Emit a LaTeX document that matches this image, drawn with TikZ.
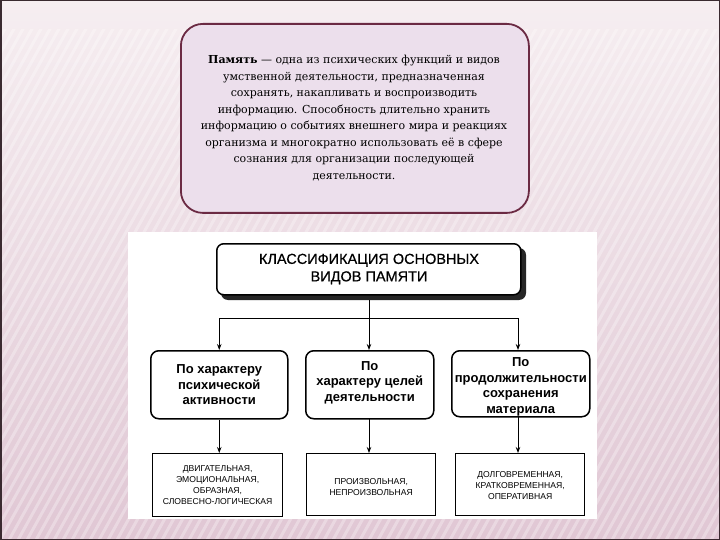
\documentclass[tikz,border=0pt]{standalone}
\usepackage{fontspec}
\setmainfont{Liberation Sans}
\newfontfamily\topfont{DejaVu Serif}
\newfontfamily\diagfont{Liberation Sans}
\newfontfamily\titlefont[FakeBold=0.6]{Liberation Sans}
\usetikzlibrary{arrows.meta}
\definecolor{bgtop}{HTML}{F6EEF1}
\definecolor{bgbot}{HTML}{E0C7D4}
\definecolor{topfill}{HTML}{ECDFEC}
\definecolor{topdraw}{HTML}{6B2A43}
\definecolor{frame}{HTML}{3A2A30}
\tikzset{
  titlebox/.style={draw=black, line width=1.5pt, fill=white, rounded corners=7pt},
  midbox/.style={draw=black, line width=1.5pt, fill=white, rounded corners=8pt},
  lowbox/.style={draw=black, line width=1.3pt, fill=white},
  conn/.style={draw=black, line width=0.9pt},
  arr/.style={conn, -{Stealth[length=6pt,width=4.5pt]}},
  midtext/.style={font=\diagfont\bfseries\fontsize{13}{15.8}\selectfont, align=center, inner sep=0pt},
  lowtext/.style={font=\diagfont\fontsize{8.6}{10.8}\selectfont, align=center, inner sep=0pt},
}
\begin{document}
\begin{tikzpicture}[x=1pt,y=-1pt]
\useasboundingbox (0,0) rectangle (720,540);
% background
\shade[top color=bgtop, bottom color=bgbot] (0,0) rectangle (720,540);
\begin{scope}
\clip (0,30) rectangle (720,540);
\foreach \i in {-40,...,90} {
  \draw[white, opacity=0.3, line width=3pt] (\i*9,540) -- (\i*9+300,0);
}
\end{scope}
\draw[frame, line width=1.5pt] (0.75,0.75) rectangle (719.25,539.25);

% top definition box
\node[draw=topdraw, line width=1.8pt, fill=topfill, rounded corners=22pt,
      minimum width=348pt, minimum height=189pt, anchor=north west] (def) at (180,23) {};
\node[font=\topfont\fontsize{11}{16.5}\selectfont, align=center, inner sep=0pt] (deftext) at (354,118)
{\textbf{Память} — одна из психических функций и видов\\
умственной деятельности, предназначенная\\
сохранять, накапливать и воспроизводить\\
информацию. Способность длительно хранить\\
информацию о событиях внешнего мира и реакциях\\
организма и многократно использовать её в сфере\\
сознания для организации последующей\\
деятельности.};

% white panel
\fill[white] (128,232) rectangle (597,519);

% title box with shadow
\fill[black!85, rounded corners=7pt] (221,248) rectangle (526,300);
\node[titlebox, minimum width=304pt, minimum height=51pt, anchor=north west] (title) at (216,243) {};
\node[font=\titlefont\fontsize{14.5}{17.5}\selectfont, align=center, inner sep=0pt] at (369,269)
{КЛАССИФИКАЦИЯ ОСНОВНЫХ\\ВИДОВ ПАМЯТИ};

% middle boxes
\node[midbox, minimum width=137pt, minimum height=68pt, anchor=north west] (m1) at (150,350) {};
\node[midbox, minimum width=128pt, minimum height=68pt, anchor=north west] (m2) at (305,350) {};
\node[midbox, minimum width=138pt, minimum height=66pt, anchor=north west] (m3) at (451,350) {};
\node[midtext] at (m1.center) {По характеру\\психической\\активности};
\node[midtext] at ([yshift=2pt]m2.center) {По\\характеру целей\\деятельности};
\node[midtext, font=\diagfont\bfseries\fontsize{13}{15.6}\selectfont] at ([yshift=-3pt]m3.center) {По\\продолжительности\\сохранения\\материала};

% bottom boxes
\node[lowbox, minimum width=130pt, minimum height=63pt, anchor=north west] (b1) at (152,453) {};
\node[lowbox, minimum width=129pt, minimum height=62pt, anchor=north west] (b2) at (306,453) {};
\node[lowbox, minimum width=129pt, minimum height=62pt, anchor=north west] (b3) at (455,453) {};
\node[lowtext] at (b1.center) {ДВИГАТЕЛЬНАЯ,\\ЭМОЦИОНАЛЬНАЯ,\\ОБРАЗНАЯ,\\СЛОВЕСНО-ЛОГИЧЕСКАЯ};
\node[lowtext] at ([yshift=-2pt]b2.center) {ПРОИЗВОЛЬНАЯ,\\НЕПРОИЗВОЛЬНАЯ};
\node[lowtext] at ([yshift=-1pt]b3.center) {ДОЛГОВРЕМЕННАЯ,\\КРАТКОВРЕМЕННАЯ,\\ОПЕРАТИВНАЯ};

% connectors
\coordinate (j) at (369,318);
\coordinate (jl) at (m1.north |- j);
\coordinate (jr) at (518,318);
\draw[conn] (369,300) -- (j);
\draw[conn] (jl) -- (jr);
\draw[arr] (jl) -- (m1.north);
\draw[arr] (j) -- (369,350);
\draw[arr] (jr) -- (518,350);
\draw[arr] (m1.south) -- (b1.north -| m1.south);
\draw[arr] (369,418) -- (369,453);
\draw[arr] (518,416) -- (518,453);
\end{tikzpicture}
\end{document}
